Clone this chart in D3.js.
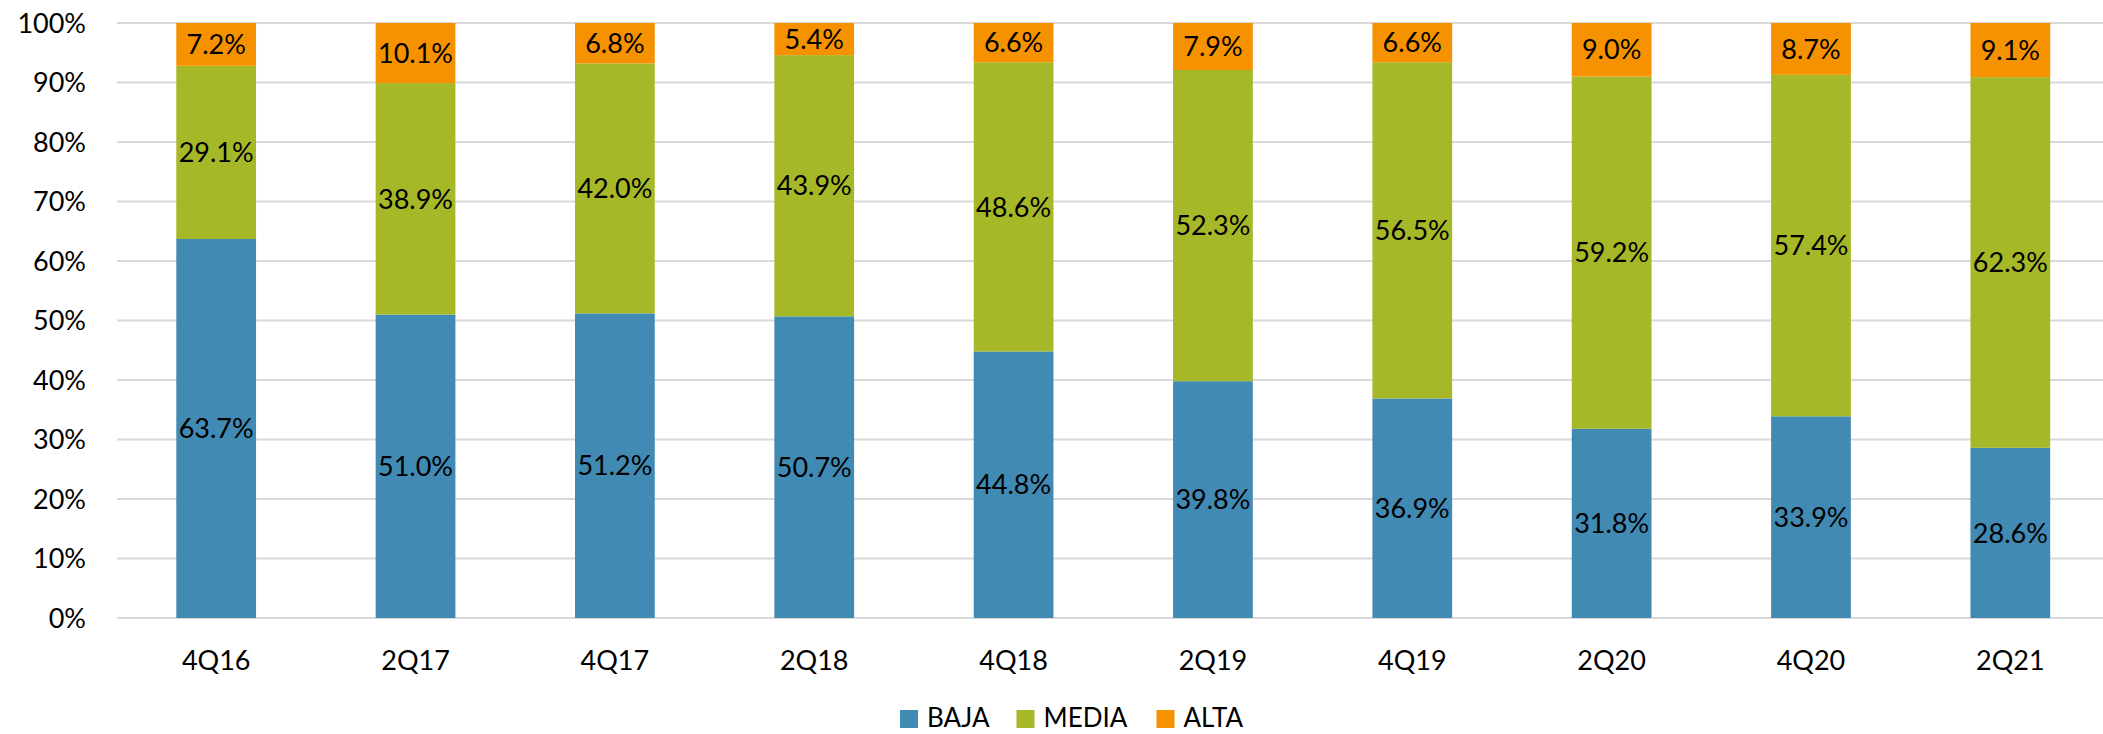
<!DOCTYPE html>
<html>
<head>
<meta charset="utf-8">
<script src="https://d3js.org/d3.v7.min.js"></script>
<style>
  body { margin: 0; background: #fff; }
  text { font-family: Lato, "Open Sans", sans-serif; fill: #000; }
</style>
</head>
<body>
<div id="chart"></div>
<script>
// Chart data
const quarters = ["4Q16", "2Q17", "4Q17", "2Q18", "4Q18", "2Q19", "4Q19", "2Q20", "4Q20", "2Q21"];
const baja  = [63.7, 51.0, 51.2, 50.7, 44.8, 39.8, 36.9, 31.8, 33.9, 28.6];
const media = [29.1, 38.9, 42.0, 43.9, 48.6, 52.3, 56.5, 59.2, 57.4, 62.3];
const alta  = [7.2, 10.1, 6.8, 5.4, 6.6, 7.9, 6.6, 9.0, 8.7, 9.1];
const seriesNames = ["BAJA", "MEDIA", "ALTA"];
const seriesColors = ["#418AB3", "#A6B727", "#F69200"];
const yTicks = [0, 10, 20, 30, 40, 50, 60, 70, 80, 90, 100];

const width = 2103, height = 734;

const svg = d3.select("#chart").append("svg")
  .attr("width", width)
  .attr("height", height);

// Build table for stacking
const rows = quarters.map((q, i) => ({ quarter: q, BAJA: baja[i], MEDIA: media[i], ALTA: alta[i] }));
const stacked = d3.stack().keys(seriesNames)(rows);

// Scales
let x = d3.scaleBand()
  .domain(quarters)
  .range([116.5, 2110])
  .paddingInner(0.6)
  .paddingOuter(0.3);

let y = d3.scaleLinear()
  .domain([0, 100])
  .range([618, 23]);

let color = d3.scaleOrdinal().domain(seriesNames).range(seriesColors);

// Gridlines
svg.append("g")
  .selectAll("line")
  .data(yTicks)
  .enter().append("line")
    .attr("x1", 117)
    .attr("x2", width)
    .attr("y1", (d) => y(d))
    .attr("y2", (d) => y(d))
    .attr("stroke", "#D9D9D9")
    .attr("stroke-width", 2);

// Y axis labels
svg.append("g")
  .selectAll("text")
  .data(yTicks)
  .enter().append("text")
    .attr("x", 86)
    .attr("y", (d) => y(d))
    .attr("dy", "0.36em")
    .attr("text-anchor", "end")
    .style("font-size", "27px")
    .text((d) => d + "%");

// Bars
const layers = svg.append("g")
  .selectAll("g")
  .data(stacked)
  .enter().append("g")
    .attr("fill", (d) => color(d.key));

layers.selectAll("rect")
  .data((d) => d)
  .enter().append("rect")
    .attr("x", (d) => x(d.data.quarter))
    .attr("y", (d) => y(d[1]))
    .attr("width", x.bandwidth())
    .attr("height", (d) => y(d[0]) - y(d[1]));

// Data labels
const labels = svg.append("g");
stacked.forEach((layer) => {
  labels.selectAll(null)
    .data(layer)
    .enter().append("text")
      .attr("x", (d) => x(d.data.quarter) + x.bandwidth() / 2)
      .attr("y", (d) => y((d[0] + d[1]) / 2))
      .attr("dy", "0.36em")
      .attr("text-anchor", "middle")
      .style("font-size", "27px")
      .text((d) => (d[1] - d[0]).toFixed(1) + "%");
});

// X axis labels
svg.append("g")
  .selectAll("text")
  .data(quarters)
  .enter().append("text")
    .attr("x", (d) => x(d) + x.bandwidth() / 2)
    .attr("y", 670)
    .attr("text-anchor", "middle")
    .style("font-size", "27px")
    .text((d) => d);

// Legend
const legendX = [900, 1016.5, 1156.5];
const legend = svg.append("g");
seriesNames.forEach((name, i) => {
  legend.append("rect")
    .attr("x", legendX[i])
    .attr("y", 710)
    .attr("width", 18)
    .attr("height", 18)
    .attr("fill", color(name));
  legend.append("text")
    .attr("x", legendX[i] + 27)
    .attr("y", 727)
    .style("font-size", "26px")
    .text(name);
});
</script>
</body>
</html>
